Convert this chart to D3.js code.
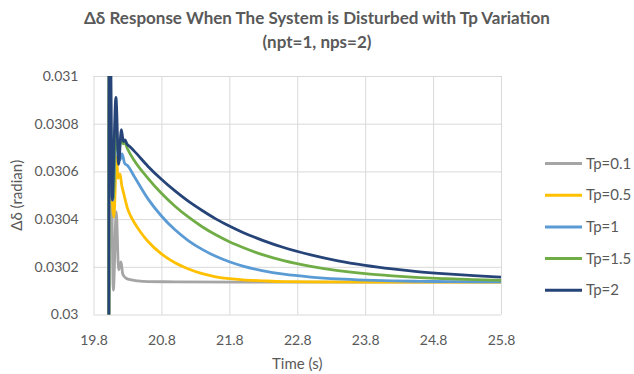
<!DOCTYPE html>
<html>
<head>
<meta charset="utf-8">
<script src="https://cdn.jsdelivr.net/npm/d3@7"></script>
<style>
  body { margin: 0; background: #fff; }
  text { font-family: Lato, "Open Sans", sans-serif; fill: #595959; }
</style>
</head>
<body>
<div id="chart"></div>
<script>
// series names and colours (legend order)
var seriesNames = ['Tp=0.1', 'Tp=0.5', 'Tp=1', 'Tp=1.5', 'Tp=2'];
var colors = ['#a5a5a5', '#ffc000', '#5b9bd5', '#70ad47', '#264478'];

// axis ticks
var xTicks = [19.8, 20.8, 21.8, 22.8, 23.8, 24.8, 25.8];
var xTickLabels = ['19.8', '20.8', '21.8', '22.8', '23.8', '24.8', '25.8'];
var yTicks = [0.03, 0.0302, 0.0304, 0.0306, 0.0308, 0.031];
var yTickLabels = ['0.03', '0.0302', '0.0304', '0.0306', '0.0308', '0.031'];

// Tp=0.1
var tp01Time = [19.8, 20.0, 20.03, 20.06, 20.092, 20.135, 20.17, 20.205, 20.23, 20.28, 20.36, 20.45, 20.6, 21.0, 22.0, 23.0, 24.0, 25.0, 25.8];
var tp01Val = [0, 0, 0.03090, 0.03070, 0.030102, 0.030431, 0.030187, 0.030221, 0.030170, 0.030152, 0.030145, 0.030141, 0.030138, 0.030137, 0.030136, 0.030136, 0.030136, 0.030136, 0.030136];

// Tp=0.5
var tp05Time = [19.8, 20.0, 20.03, 20.06, 20.1, 20.14, 20.16, 20.19, 20.215, 20.25, 20.3, 20.35, 20.4, 20.5, 20.6, 20.8, 21.0, 21.2, 21.4, 21.6, 21.8, 22.0, 22.3, 22.6, 23.0, 24.0, 25.0, 25.8];
var tp05Val = [0, 0, 0.03112, 0.03062, 0.030409, 0.030660, 0.030572, 0.030589, 0.030543, 0.030501, 0.030445, 0.030411, 0.030386, 0.030343, 0.030307, 0.030254, 0.030217, 0.030191, 0.030171, 0.030158, 0.030150, 0.030145, 0.030141, 0.030138, 0.030137, 0.030136, 0.030136, 0.030136];

// Tp=1
var tp1Time = [19.8, 20.0, 20.03, 20.065, 20.09, 20.12, 20.16, 20.19, 20.22, 20.26, 20.3, 20.4, 20.6, 20.8, 21.0, 21.2, 21.4, 21.6, 21.8, 22.0, 22.3, 22.6, 23.0, 23.4, 23.8, 24.2, 24.6, 25.0, 25.8];
var tp1Val = [0, 0, 0.03115, 0.03050, 0.030480, 0.030690, 0.030719, 0.030648, 0.030673, 0.030633, 0.030625, 0.030579, 0.030486, 0.030413, 0.030355, 0.030309, 0.030273, 0.030244, 0.030221, 0.030203, 0.030183, 0.030169, 0.030157, 0.030149, 0.030144, 0.030141, 0.030139, 0.030138, 0.030137];

// Tp=1.5
var tp15Time = [19.8, 20.0, 20.03, 20.065, 20.09, 20.125, 20.165, 20.21, 20.235, 20.26, 20.3, 20.4, 20.6, 20.8, 21.0, 21.2, 21.4, 21.6, 21.8, 22.0, 22.3, 22.6, 23.0, 23.4, 23.8, 24.2, 24.6, 25.0, 25.4, 25.8];
var tp15Val = [0, 0, 0.03118, 0.03060, 0.030487, 0.030800, 0.030680, 0.030745, 0.030716, 0.030722, 0.030695, 0.030646, 0.030572, 0.030508, 0.030454, 0.030408, 0.030368, 0.030334, 0.030305, 0.030281, 0.030250, 0.030226, 0.030202, 0.030184, 0.030171, 0.030162, 0.030155, 0.030150, 0.030146, 0.030143];

// Tp=2
var tp2Time = [19.8, 20.0, 20.03, 20.05, 20.075, 20.13, 20.17, 20.21, 20.24, 20.265, 20.29, 20.33, 20.4, 20.6, 20.8, 21.0, 21.2, 21.4, 21.6, 21.8, 22.0, 22.3, 22.6, 23.0, 23.4, 23.8, 24.2, 24.6, 25.0, 25.4, 25.8];
var tp2Val = [0, 0, 0.03120, 0.03115, 0.03048, 0.03091, 0.03063, 0.030775, 0.030725, 0.030732, 0.030716, 0.030705, 0.030685, 0.030622, 0.030567, 0.030518, 0.030474, 0.030436, 0.030401, 0.030371, 0.030344, 0.030310, 0.030281, 0.030250, 0.030225, 0.030206, 0.030191, 0.030179, 0.030170, 0.030163, 0.030157];

var allTimes = [tp01Time, tp05Time, tp1Time, tp15Time, tp2Time];
var allVals = [tp01Val, tp05Val, tp1Val, tp15Val, tp2Val];

var W = 634, H = 374;
var plot = { left: 93.5, right: 501, top: 76, bottom: 314.5 };

var svg = d3.select('#chart').append('svg')
    .attr('width', W)
    .attr('height', H);

var x = d3.scaleLinear().domain([19.8, 25.8]).range([plot.left, plot.right]);
var y = d3.scaleLinear().domain([0.03, 0.031]).range([plot.bottom, plot.top]);

// title
var title = svg.append('text')
    .attr('text-anchor', 'middle')
    .style('font-weight', 'bold')
    .style('font-size', '17px');
title.append('tspan').attr('x', 317).attr('y', 24)
    .text('Δδ Response When The System is Disturbed with Tp Variation');
title.append('tspan').attr('x', 317).attr('y', 48)
    .text('(npt=1, nps=2)');

// gridlines + y labels
var yAxis = svg.append('g')
    .attr('transform', 'translate(' + plot.left + ',0)')
    .call(d3.axisLeft(y)
        .tickValues(yTicks)
        .tickSize(-(plot.right - plot.left))
        .tickPadding(15)
        .tickFormat(function (d, i) { return yTickLabels[i]; }));
yAxis.select('.domain').remove();
yAxis.selectAll('line').attr('stroke', '#d9d9d9');
yAxis.selectAll('text').style('font-size', '14px').style('font-family', 'Lato').attr('fill', '#595959');

var xAxis = svg.append('g')
    .attr('transform', 'translate(0,' + plot.bottom + ')')
    .call(d3.axisBottom(x)
        .tickValues(xTicks)
        .tickSize(-(plot.bottom - plot.top))
        .tickFormat(function (d, i) { return xTickLabels[i]; }));
xAxis.select('.domain').remove();
xAxis.selectAll('line').attr('stroke', '#d9d9d9');
xAxis.selectAll('text')
    .attr('y', 30).attr('dy', 0)
    .style('font-size', '14px').style('font-family', 'Lato').attr('fill', '#595959');

// axis titles
svg.append('text')
    .attr('x', (plot.left + plot.right) / 2)
    .attr('y', 369)
    .attr('text-anchor', 'middle')
    .style('font-size', '15px')
    .text('Time (s)');
svg.append('text')
    .attr('transform', 'translate(22,' + ((plot.top + plot.bottom) / 2) + ') rotate(-90)')
    .attr('text-anchor', 'middle')
    .style('font-size', '15px')
    .text('Δδ (radian)');

// lines
svg.append('clipPath').attr('id', 'clip')
    .append('rect')
    .attr('x', plot.left).attr('y', plot.top)
    .attr('width', plot.right - plot.left)
    .attr('height', plot.bottom - plot.top);

var line = d3.line()
    .x(function (d) { return x(d[0]); })
    .y(function (d) { return y(d[1]); })
    .curve(d3.curveMonotoneX);

var g = svg.append('g').attr('clip-path', 'url(#clip)');
for (var i = 0; i < seriesNames.length; i++) {
    var pts = allTimes[i].map(function (t, j) { return [t, allVals[i][j]]; });
    g.append('path')
        .datum(pts)
        .attr('fill', 'none')
        .attr('stroke', colors[i])
        .attr('stroke-width', 2.8)
        .attr('stroke-linejoin', 'round')
        .attr('d', line);
}

// legend
var legend = svg.append('g');
seriesNames.forEach(function (name, i) {
    var ly = 163.5 + i * 31.7;
    legend.append('line')
        .attr('x1', 545).attr('x2', 582)
        .attr('y1', ly).attr('y2', ly)
        .attr('stroke', colors[i])
        .attr('stroke-width', 3);
    legend.append('text')
        .attr('x', 586).attr('y', ly + 5)
        .style('font-size', '15px')
        .text(name);
});
</script>
</body>
</html>
